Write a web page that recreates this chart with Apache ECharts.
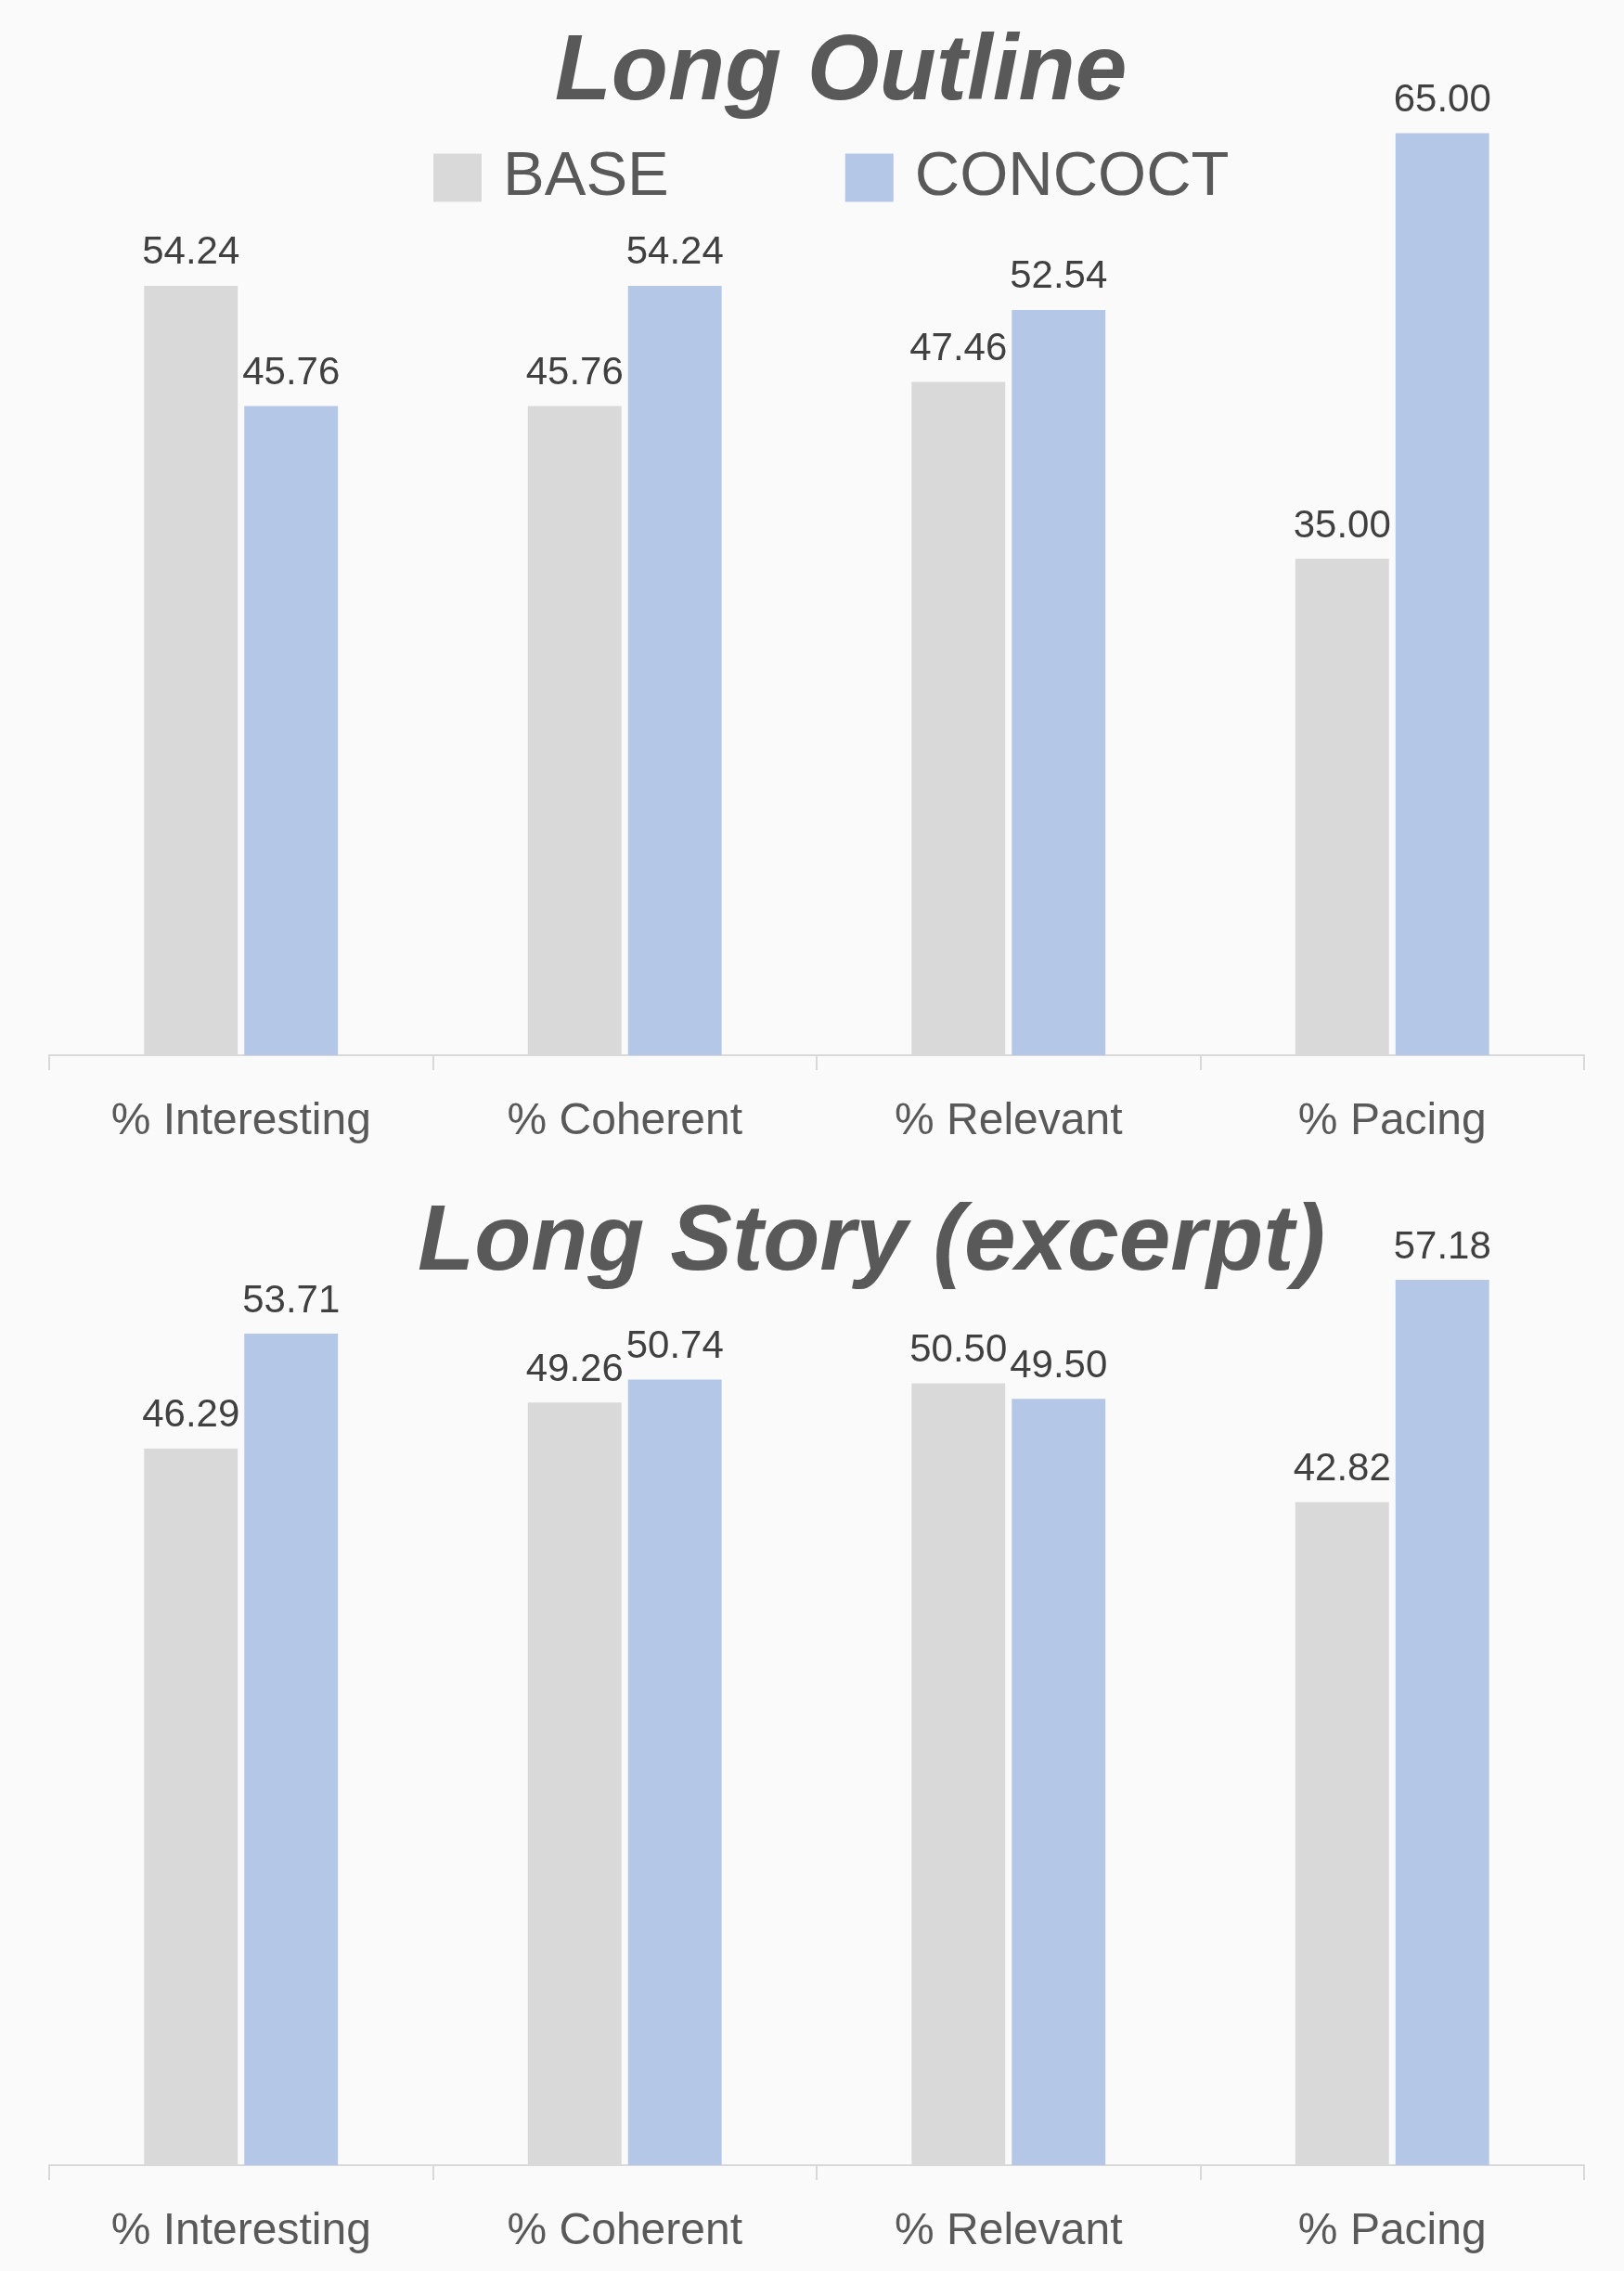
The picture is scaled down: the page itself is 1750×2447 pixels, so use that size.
<!DOCTYPE html>
<html>
<head>
<meta charset="utf-8">
<style>
html,body{margin:0;padding:0;background:#fafafa;}
#chart{width:1750px;height:2447px;}
</style>
<script src="https://cdn.jsdelivr.net/npm/echarts@6/dist/echarts.min.js"></script>
</head>
<body>
<div id="chart"></div>
<script>
const categories = ['% Interesting', '% Coherent', '% Relevant', '% Pacing'];
const seriesNames = ['BASE', 'CONCOCT'];
const titles = ['Long Outline', 'Long Story (excerpt)'];
const outlineBase = [54.24, 45.76, 47.46, 35.00];
const outlineConcoct = [45.76, 54.24, 52.54, 65.00];
const storyBase = [46.29, 49.26, 50.50, 42.82];
const storyConcoct = [53.71, 50.74, 49.50, 57.18];

const colors = ['#d9d9d9', '#b4c7e7'];
const FONT = '"Liberation Sans", Arial, sans-serif';

const chart = echarts.init(document.getElementById('chart'), null, {renderer: 'canvas'});

function xAxis(idx) {
  return {
    type: 'category', gridIndex: idx, data: categories,
    axisLine: {lineStyle: {color: '#d9d9d9', width: 2}},
    axisTick: {show: true, length: 16, lineStyle: {color: '#d9d9d9', width: 2}},
    axisLabel: {color: '#595959', fontSize: 48, fontFamily: FONT, margin: 48}
  };
}
function yAxis(idx, max) {
  return {
    type: 'value', gridIndex: idx, min: 0, max: max,
    show: false, splitLine: {show: false}
  };
}
function bar(name, data, idx, color) {
  return {
    name: name, type: 'bar', xAxisIndex: idx, yAxisIndex: idx, data: data,
    barGap: '7%', barCategoryGap: '49.5%',
    itemStyle: {color: color},
    label: {
      show: true, position: 'top', distance: 14,
      color: '#404040', fontSize: 42, fontFamily: FONT,
      formatter: p => p.value.toFixed(2)
    }
  };
}

chart.setOption({
  backgroundColor: '#fafafa',
  animation: false,
  title: [
    {text: titles[0], left: 901, top: 24, textAlign: 'center',
     textStyle: {fontSize: 100, fontWeight: 'bold', fontStyle: 'italic', color: '#595959', fontFamily: FONT}},
    {text: titles[1], left: 934, top: 1285, textAlign: 'center',
     textStyle: {fontSize: 100, fontWeight: 'bold', fontStyle: 'italic', color: '#595959', fontFamily: FONT}}
  ],
  legend: {
    data: seriesNames, left: 462, top: 153,
    itemWidth: 52, itemHeight: 52, itemGap: 190,
    icon: 'rect',
    textStyle: {fontSize: 67, color: '#595959', fontFamily: FONT, padding: [0, 0, 0, 18]}
  },
  grid: [
    {left: 53, right: 43, top: 67, height: 1070, containLabel: false},
    {left: 53, right: 43, top: 1332, height: 1001, containLabel: false}
  ],
  xAxis: [xAxis(0), xAxis(1)],
  yAxis: [yAxis(0, 70), yAxis(1, 60)],
  series: [
    bar(seriesNames[0], outlineBase, 0, colors[0]),
    bar(seriesNames[1], outlineConcoct, 0, colors[1]),
    bar(seriesNames[0], storyBase, 1, colors[0]),
    bar(seriesNames[1], storyConcoct, 1, colors[1])
  ]
});
</script>
</body>
</html>
